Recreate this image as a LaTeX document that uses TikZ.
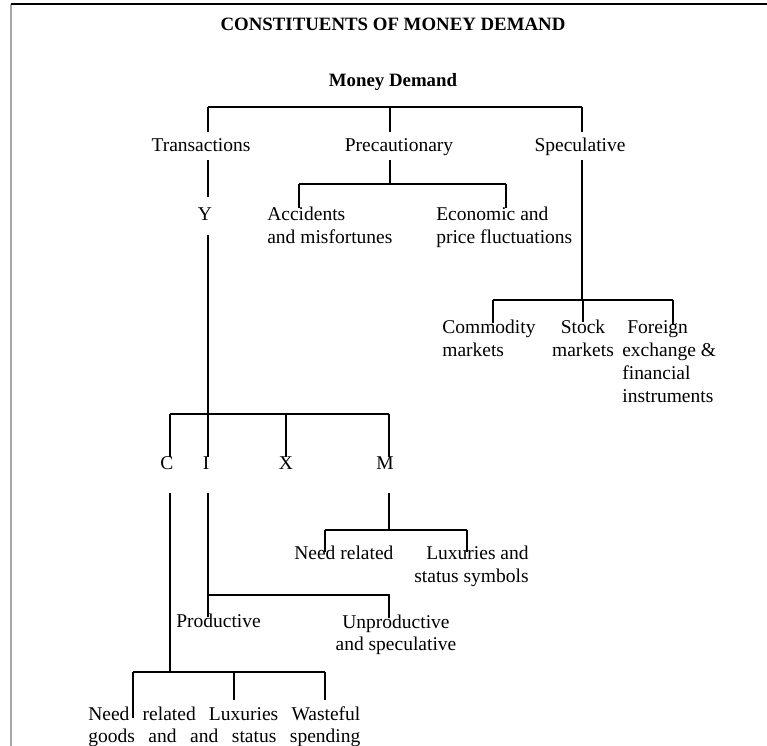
\documentclass[tikz,border=0pt]{standalone}
\usepackage{fontspec}
\setmainfont{Liberation Serif}
\usepackage{tikz}
\usetikzlibrary{positioning}
\usetikzlibrary{calc}

\begin{document}
\begin{tikzpicture}[x=0.6pt, y=-0.6pt,
  txt/.style={inner sep=0pt, anchor=base, align=center, font=\fontsize{11.7}{13.8}\selectfont},
  txtl/.style={txt, anchor=base west, align=left},
  head/.style={inner sep=0pt, anchor=base, font=\fontsize{11.3}{13.8}\selectfont\bfseries},
  branch/.style={line width=1.1pt},
  frame/.style={line width=#1},
  frame/.default=1pt]

\useasboundingbox (0,0) rectangle (767,746);

% frame of the page
\draw [frame=1.2pt, gray!70] (11,4) -- (11,746);
\draw [frame] (11,4) -- (767,4);

% titles
\node [head] (title) at (393,31) {CONSTITUENTS OF MONEY DEMAND};
\node [head] (md) at (393,87) {Money Demand};

% first level
\node [txt] (trans) at (201,152) {Transactions};
\node [txt] (prec) at (399,152) {Precautionary};
\node [txt] (spec) at (580,152) {Speculative};
\coordinate (mdL) at (208,107);
\coordinate (mdM) at (390,107);
\coordinate (mdR) at (582,107);
\draw [branch] (mdL) -- (mdR);
\draw [branch] (mdL) -- (208,132);
\draw [branch] (mdM) -- (390,132);
\draw [branch] (mdR) -- (582,132);

% transactions
\node [txt] (y) at (205,221) {Y};
\coordinate (transB) at (208,160);
\draw [branch] (transB) -- (208,197);

% precautionary (multi-line nodes sit on their last baseline)
\node [txtl] (acc) at (267,244) {Accidents\\ and misfortunes};
\node [txtl] (econ) at (436,244) {Economic and\\price fluctuations};
\coordinate (precB) at (390,160);
\coordinate (precL) at (299,184);
\coordinate (precR) at (506,184);
\draw [branch] (precB) -- (precB |- precL);
\draw [branch] (precL) -- (precR);
\draw [branch] (precL) -- (299,208);
\draw [branch] (precR) -- (506,208);

% speculative
\node [txtl] (comm) at (442,357) {Commodity\\markets};
\node [txt] (stock) at (583,357) {Stock\\markets};
\node [txtl] (forex) at (622,403) {\hspace{3pt}Foreign\\exchange \&\\financial\\instruments};
\coordinate (specB) at (582,160);
\coordinate (specL) at (493,300);
\coordinate (specR) at (673,300);
\draw [branch] (specB) -- (specB |- specL);
\draw [branch] (specL) -- (specR);
\draw [branch] (specL) -- (493,323);
\draw [branch] (583,300) -- (583,322);
\draw [branch] (specR) -- (673,325);

% components of Y
\node [txt] (c) at (167,470) {C};
\node [txt] (i) at (206,470) {I};
\node [txt] (x) at (286,470) {X};
\node [txt] (m) at (385,470) {M};
\coordinate (yB) at (208,235);
\coordinate (yL) at (170,414);
\coordinate (yR) at (389,414);
\draw [branch] (yB) -- (208,457);
\draw [branch] (yL) -- (yR);
\draw [branch] (yL) -- (170,457);
\draw [branch] (286,414) -- (286,457);
\draw [branch] (yR) -- (389,457);

% imports
\node [txtl] (mneed) at (294,560) {Need related};
\node [txt, anchor=base east, align=right] (mlux) at (529,583) {Luxuries and\\status symbols};
\coordinate (mB) at (389,493);
\coordinate (mL) at (325,530);
\coordinate (mR) at (467,530);
\draw [branch] (mB) -- (mB |- mL);
\draw [branch] (mL) -- (mR);
\draw [branch] (mL) -- (325,552);
\draw [branch] (mR) -- (467,552);

% investment
\node [txtl] (prod) at (176,628) {Productive};
\node [txt] (unprod) at (396,651) {Unproductive\\and speculative};
\coordinate (iB) at (208,493);
\coordinate (iJ) at (208,595);
\coordinate (iR) at (389,595);
\draw [branch] (iB) -- (208,617);
\draw [branch] (iJ) -- (iR) -- (389,618);

% consumption
\node [txtl] (cons) at (88,743)
  {\makebox[163.2pt][s]{Need related Luxuries Wasteful}\\
   \makebox[163.2pt][s]{goods and and status spending}};
\coordinate (cB) at (170,493);
\coordinate (cL) at (133,672);
\coordinate (cM) at (234,672);
\coordinate (cR) at (325,672);
\draw [branch] (cB) -- (cB |- cL);
\draw [branch] (cL) -- (cR);
\draw [branch] (cL) -- (133,718);
\draw [branch] (cM) -- (234,700);
\draw [branch] (cR) -- (325,700);

\end{tikzpicture}
\end{document}
